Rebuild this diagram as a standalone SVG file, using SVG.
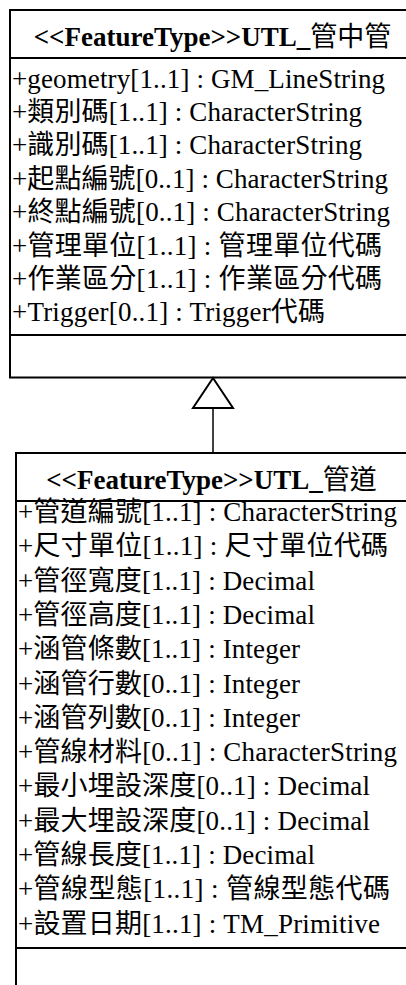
<svg xmlns="http://www.w3.org/2000/svg" width="406" height="985" viewBox="0 0 406 985">
  <style>
    .box { fill: #ffffff; stroke: #000000; stroke-width: 2; }
    .sep { stroke: #000000; stroke-width: 2; }
    .title { font-family: "Liberation Serif", "Noto Sans CJK TC", serif; font-size: 27px; font-weight: bold; fill: #000000; text-anchor: middle; }
    .title .cjk { font-family: "Noto Sans CJK TC", "Noto Sans CJK SC", sans-serif; font-weight: normal; }
    .attr { font-family: "Liberation Serif", "Noto Sans CJK TC", serif; font-size: 27px; font-weight: normal; fill: #000000; }
    .edge { fill: none; stroke: #000000; stroke-width: 1.5; }
  </style>
  <defs>
    <!-- hollow generalization arrowhead -->
    <marker id="generalization" markerUnits="userSpaceOnUse" viewBox="-2 -22 34 44" refX="30" refY="0" markerWidth="34" markerHeight="44" orient="auto" overflow="visible">
      <path d="M30,0 L0,-20 L0,20 Z" fill="#ffffff" stroke="#000000" stroke-width="2" stroke-linejoin="miter"/>
    </marker>
  </defs>
  <rect width="406" height="985" fill="#ffffff"/>

  <!-- parent class -->
  <g id="utl-pipe-in-pipe">
    <rect class="box" x="10" y="10" width="406" height="367.5"/>
    <line class="sep" x1="10" y1="58" x2="416" y2="58"/>
    <line class="sep" x1="10" y1="335" x2="416" y2="335"/>
    <text class="title" x="212.5" y="46">&lt;&lt;FeatureType&gt;&gt;UTL_<tspan class="cjk">管中管</tspan></text>
    <text class="attr" x="12" y="87.5" textLength="373">+geometry[1..1] : GM_LineString</text>
    <text class="attr" x="12" y="120.9" textLength="350">+類別碼[1..1] : CharacterString</text>
    <text class="attr" x="12" y="154.3" textLength="350">+識別碼[1..1] : CharacterString</text>
    <text class="attr" x="12" y="187.7" textLength="376">+起點編號[0..1] : CharacterString</text>
    <text class="attr" x="12" y="221.1" textLength="378">+終點編號[0..1] : CharacterString</text>
    <text class="attr" x="12" y="254.5" textLength="370">+管理單位[1..1] : 管理單位代碼</text>
    <text class="attr" x="12" y="287.9" textLength="370">+作業區分[1..1] : 作業區分代碼</text>
    <text class="attr" x="12" y="321.3" textLength="313">+Trigger[0..1] : Trigger代碼</text>
  </g>

  <!-- child class -->
  <g id="utl-duct">
    <rect class="box" x="16" y="453" width="394" height="600"/>
    <line class="sep" x1="16" y1="501" x2="410" y2="501"/>
    <line class="sep" x1="16" y1="948" x2="410" y2="948"/>
    <text class="title" x="211.5" y="489">&lt;&lt;FeatureType&gt;&gt;UTL_<tspan class="cjk">管道</tspan></text>
    <text class="attr" x="18" y="521" textLength="379">+管道編號[1..1] : CharacterString</text>
    <text class="attr" x="18" y="555.3" textLength="370">+尺寸單位[1..1] : 尺寸單位代碼</text>
    <text class="attr" x="18" y="589.6" textLength="297">+管徑寬度[1..1] : Decimal</text>
    <text class="attr" x="18" y="623.9" textLength="297">+管徑高度[1..1] : Decimal</text>
    <text class="attr" x="18" y="658.2" textLength="282">+涵管條數[1..1] : Integer</text>
    <text class="attr" x="18" y="692.5" textLength="282">+涵管行數[0..1] : Integer</text>
    <text class="attr" x="18" y="726.8" textLength="282">+涵管列數[0..1] : Integer</text>
    <text class="attr" x="18" y="761.1" textLength="379">+管線材料[0..1] : CharacterString</text>
    <text class="attr" x="18" y="795.4" textLength="352">+最小埋設深度[0..1] : Decimal</text>
    <text class="attr" x="18" y="829.7" textLength="352">+最大埋設深度[0..1] : Decimal</text>
    <text class="attr" x="18" y="864" textLength="297">+管線長度[1..1] : Decimal</text>
    <text class="attr" x="18" y="898.3" textLength="372">+管線型態[1..1] : 管線型態代碼</text>
    <text class="attr" x="18" y="932.6" textLength="362">+設置日期[1..1] : TM_Primitive</text>
  </g>

  <!-- connectors -->
  <g id="connectors">
    <path class="edge" d="M213,453 L213,378" marker-end="url(#generalization)"/>
  </g>
</svg>
